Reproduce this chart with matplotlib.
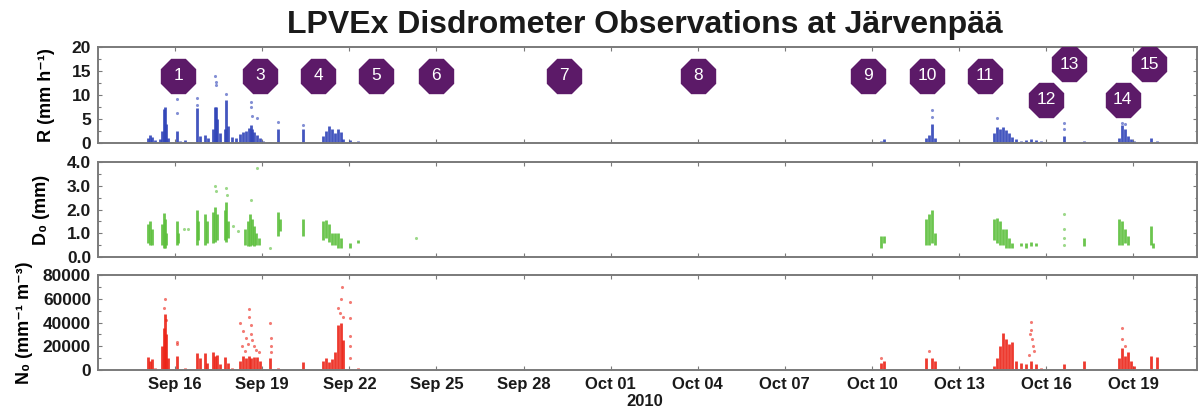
import matplotlib
matplotlib.use("Agg")
import matplotlib.pyplot as plt
from matplotlib.ticker import MultipleLocator

plt.rcParams['font.family'] = ['Liberation Sans', 'DejaVu Sans']

# ---------------- data (time in days counted from Aug 31, 2010: Sep 16 = 16, Oct 1 = 31) ----------------
tick_days = [16, 19, 22, 25, 28, 31, 34, 37, 40, 43, 46, 49]
tick_labels = ["Sep 16", "Sep 19", "Sep 22", "Sep 25", "Sep 28", "Oct 01",
               "Oct 04", "Oct 07", "Oct 10", "Oct 13", "Oct 16", "Oct 19"]

# Rain rate R (mm/h): dense columns (time, top) and sparse points
R_t = [15.07, 15.14, 15.21, 15.31, 15.48, 15.55, 15.62, 15.66, 15.69, 15.76,
       16.07, 16.17, 16.34, 16.52, 16.76, 16.86, 17.03, 17.14, 17.31, 17.38,
       17.42, 17.45, 17.55, 17.72, 17.76, 17.83, 17.97, 18.10, 18.24, 18.34,
       18.45, 18.55, 18.62, 18.66, 18.72, 18.83, 18.93, 19.03, 19.28, 19.55,
       20.41, 21.10, 21.21, 21.31, 21.41, 21.52, 21.62, 21.72, 21.79, 22.03,
       22.31, 40.03, 40.31, 40.41, 41.86, 41.97, 42.07, 42.17, 44.21, 44.31,
       44.41, 44.52, 44.62, 44.72, 44.83, 44.97, 45.14, 45.31, 45.48, 45.66,
       45.83, 45.93, 46.62, 47.31, 48.52, 48.62, 48.72, 48.83, 48.93, 49.03,
       49.62, 49.83]
R_top = [1.0, 1.7, 1.2, 0.6, 0.8, 2.5, 7.0, 7.6, 4.0, 1.0,
         2.4, 0.5, 0.6, 0.3, 7.3, 1.5, 1.6, 1.0, 3.0, 7.6,
         7.5, 5.0, 2.0, 3.0, 9.0, 3.5, 1.2, 1.0, 1.8, 2.2,
         2.5, 3.2, 3.7, 3.0, 2.2, 1.6, 1.0, 0.5, 0.3, 3.0,
         3.0, 1.5, 2.5, 3.5, 3.0, 2.0, 3.0, 2.2, 0.8, 0.6,
         0.4, 0.3, 0.5, 0.8, 1.0, 1.7, 4.0, 1.0, 2.0, 3.4,
         3.0, 3.4, 2.8, 2.0, 1.2, 0.8, 0.5, 0.6, 0.8, 0.6,
         0.4, 0.3, 1.5, 0.4, 1.0, 3.8, 3.0, 1.5, 0.8, 0.5,
         1.0, 0.4]
R_pt_t = [16.07, 16.07, 16.76, 16.76, 17.38, 17.42, 17.40, 17.76, 18.62, 18.62,
          18.66, 18.83, 19.55, 20.41, 42.07, 42.07, 44.31, 46.62, 46.62, 48.62, 48.72]
R_pt_v = [9.2, 6.3, 9.4, 8.0, 14.0, 12.8, 12.0, 10.3, 8.6, 7.6,
          5.6, 5.2, 4.4, 3.8, 5.5, 6.9, 5.2, 4.2, 3.0, 4.2, 4.0]

# Median drop diameter D0 (mm): columns (time, low, high) and sparse points
D_t = [15.07, 15.14, 15.21, 15.55, 15.62, 15.66, 15.69, 16.07, 16.10, 16.76,
       16.80, 17.03, 17.10, 17.31, 17.38, 17.45, 17.72, 17.76, 17.83, 18.40,
       18.50, 18.58, 18.65, 18.72, 18.80, 18.90, 19.55, 19.60, 20.41, 21.10,
       21.21, 21.31, 21.41, 21.52, 21.62, 21.72, 22.03, 22.31, 40.31, 40.41,
       41.86, 41.97, 42.07, 42.17, 44.21, 44.31, 44.41, 44.52, 44.62, 44.72,
       44.83, 45.14, 45.31, 45.48, 45.66, 47.31, 48.52, 48.62, 48.72, 48.83,
       49.62, 49.70]
D_lo = [0.6, 0.5, 0.5, 0.5, 0.4, 0.4, 0.5, 0.5, 0.6, 0.5,
        0.7, 0.5, 0.6, 0.6, 0.65, 0.7, 0.7, 0.65, 0.8, 0.5,
        0.45, 0.45, 0.5, 0.45, 0.5, 0.5, 0.9, 1.1, 0.9, 0.7,
        0.8, 0.65, 0.5, 0.5, 0.4, 0.4, 0.4, 0.6, 0.4, 0.6,
        0.5, 0.5, 0.6, 0.5, 0.7, 0.6, 0.5, 0.5, 0.4, 0.4,
        0.4, 0.45, 0.4, 0.45, 0.45, 0.45, 0.5, 0.5, 0.6, 0.5,
        0.5, 0.4]
D_hi = [1.4, 1.5, 1.2, 1.4, 1.85, 1.6, 1.0, 1.5, 1.0, 2.0,
        1.5, 1.8, 1.5, 1.9, 2.1, 1.8, 2.0, 2.3, 1.5, 1.2,
        1.5, 1.8, 1.6, 1.3, 1.0, 0.8, 1.9, 1.6, 1.6, 1.5,
        1.55, 1.4, 1.0, 1.0, 1.0, 0.8, 0.6, 0.7, 0.9, 0.9,
        1.6, 1.8, 2.0, 1.0, 1.6, 1.65, 1.5, 1.2, 1.2, 0.8,
        0.6, 0.6, 0.6, 0.65, 0.6, 0.8, 1.6, 1.5, 1.2, 0.9,
        1.3, 0.6]
D_pt_t = [17.38, 17.40, 17.76, 17.78, 18.62, 18.83, 16.30, 16.45, 18.00, 18.15,
          46.62, 46.62, 46.62, 46.62, 24.28, 19.28]
D_pt_v = [3.0, 2.8, 2.9, 2.6, 2.4, 3.75, 1.2, 1.2, 1.3, 1.1,
          1.8, 1.2, 0.8, 0.5, 0.8, 0.4]

# Intercept parameter N0 (mm^-1 m^-3): columns (time, top) and sparse points
N_t = [15.07, 15.14, 15.21, 15.31, 15.55, 15.62, 15.66, 15.69, 15.76, 16.07,
       16.34, 16.52, 16.76, 16.86, 17.03, 17.10, 17.31, 17.38, 17.45, 17.55,
       17.72, 17.83, 17.97, 18.24, 18.34, 18.45, 18.55, 18.62, 18.72, 18.83,
       18.93, 19.28, 19.55, 20.41, 21.10, 21.21, 21.31, 21.41, 21.52, 21.62,
       21.72, 21.79, 22.31, 40.31, 40.41, 41.86, 42.07, 42.17, 44.21, 44.31,
       44.41, 44.52, 44.62, 44.72, 44.83, 44.97, 45.14, 45.31, 45.48, 45.66,
       45.83, 46.62, 47.31, 48.52, 48.62, 48.72, 48.83, 48.93, 49.03, 49.62,
       49.83]
N_top = [11200, 8000, 9000, 2000, 20000, 35000, 47000, 30000, 10000, 12000,
         1500, 1000, 14300, 10000, 14000, 6000, 15000, 12000, 13000, 5000,
         11000, 6000, 1500, 8000, 12000, 10000, 12000, 10000, 11000, 11000,
         8000, 10000, 2000, 7000, 8000, 10000, 7000, 9000, 15000, 38000,
         40000, 25000, 2000, 6000, 8000, 10000, 10000, 8000, 3000, 10000,
         20000, 31000, 26000, 22000, 24000, 8000, 6000, 5000, 8000, 5000,
         1500, 5000, 8000, 10000, 18500, 12000, 15000, 8000, 3000, 12000,
         11000]
N_pt_t = [15.62, 15.66, 15.69, 16.07, 16.07, 18.24, 18.34, 18.45, 18.55, 18.55,
          18.60, 18.62, 18.50, 18.70, 18.80, 18.90, 18.30, 18.40, 18.66, 19.28,
          19.30, 19.30, 19.30, 21.62, 21.72, 21.75, 21.69, 21.79, 22.03, 22.03,
          22.03, 22.03, 22.03, 40.31, 41.97, 45.48, 45.48, 45.45, 45.52, 45.55,
          45.60, 45.40, 48.62, 48.62, 48.72]
N_pt_v = [52000, 60000, 42000, 22000, 24000, 40000, 33000, 27000, 51000, 45000,
          38000, 30000, 22000, 20000, 17000, 15000, 20000, 16000, 25000, 40000,
          27000, 20000, 15000, 52000, 60000, 70000, 48000, 45000, 57000, 44000,
          29000, 20000, 10000, 10000, 16000, 40700, 34000, 30000, 26000, 20000,
          16000, 13000, 35000, 26000, 20000]

# Numbered event markers
ev_labels = ["1", "3", "4", "5", "6", "7", "8", "9", "10", "11", "12", "13", "14", "15"]
ev_t = [16.10, 18.93, 20.93, 22.93, 24.97, 29.38, 34.0, 39.86, 41.90, 43.90,
        46.0, 46.79, 48.64, 49.55]
ev_y = [14.0, 14.0, 14.0, 14.0, 14.0, 14.0, 14.0, 14.0, 14.0, 14.0,
        9.0, 16.4, 9.0, 16.4]

# ---------------- styling ----------------
BLUE = '#3044b8'
GREEN = '#5cbf3c'
RED = '#ec2418'
PURPLE = '#5c1a68'
FRAME = '#7a7a7a'
XMIN, XMAX = 13.34, 51.2
NARROW = ['Liberation Sans Narrow', 'Liberation Sans', 'DejaVu Sans']

fig = plt.figure(figsize=(11.99, 4.11), dpi=100)
W, H = 1199.0, 411.0
left = 98 / W
width = (1197 - 98) / W
ax1 = fig.add_axes([left, 1 - 143 / H, width, 96 / H])
ax2 = fig.add_axes([left, 1 - 257 / H, width, 95 / H])
ax3 = fig.add_axes([left, 1 - 370 / H, width, 95 / H])

for ax in (ax1, ax2, ax3):
    ax.set_xlim(XMIN, XMAX)
    ax.set_xticks(tick_days)
    for s in ax.spines.values():
        s.set_color(FRAME)
        s.set_linewidth(1.4)
    ax.tick_params(axis='both', which='both', direction='in', colors=FRAME,
                   top=True, right=True, length=3, width=0.8, labelcolor='#1a1a1a')
    ax.tick_params(axis='both', which='minor', length=1.8)

# Panel 1: R
ax1.vlines(R_t, 0, R_top, color=BLUE, lw=2.0, alpha=0.9)
ax1.scatter(R_pt_t, R_pt_v, s=5, color=BLUE, alpha=0.6, linewidths=0)
ax1.set_ylim(0, 20)
ax1.set_yticks([0, 5, 10, 15, 20])
ax1.set_yticklabels(['0', '5', '10', '15', '20'])
ax1.yaxis.set_minor_locator(MultipleLocator(2.5))
ax1.set_xticklabels([])
ax1.set_ylabel('R (mm h\u207b\u00b9)', fontsize=13, fontweight='bold', labelpad=12,
               family=NARROW)
ax1.plot(ev_t, ev_y, linestyle='none', marker='8', ms=27, color=PURPLE,
         markeredgecolor=PURPLE, zorder=5)
for lab, t, y in zip(ev_labels, ev_t, ev_y):
    ax1.text(t, y, lab, color='white', fontsize=12.5, ha='center', va='center',
             family=NARROW, zorder=6)

# Panel 2: D0
ax2.vlines(D_t, D_lo, D_hi, color=GREEN, lw=2.0, alpha=0.9)
ax2.scatter(D_pt_t, D_pt_v, s=5, color=GREEN, alpha=0.6, linewidths=0)
ax2.set_ylim(0, 4)
ax2.set_yticks([0, 1, 2, 3, 4])
ax2.set_yticklabels(['0.0', '1.0', '2.0', '3.0', '4.0'])
ax2.yaxis.set_minor_locator(MultipleLocator(0.5))
ax2.set_xticklabels([])
ax2.set_ylabel('D\u2080 (mm)', fontsize=13, fontweight='bold', labelpad=12,
               family=NARROW)

# Panel 3: N0
ax3.vlines(N_t, 0, N_top, color=RED, lw=2.0, alpha=0.9)
ax3.scatter(N_pt_t, N_pt_v, s=5, color=RED, alpha=0.6, linewidths=0)
ax3.set_ylim(0, 80000)
ax3.set_yticks([0, 20000, 40000, 60000, 80000])
ax3.set_yticklabels(['0', '20000', '40000', '60000', '80000'])
ax3.yaxis.set_minor_locator(MultipleLocator(10000))
ax3.set_xticklabels(tick_labels)
ax3.set_ylabel('N\u2080 (mm\u207b\u00b9 m\u207b\u00b3)', fontsize=13, fontweight='bold',
               labelpad=7, family=NARROW)

for ax in (ax1, ax2, ax3):
    for lab in ax.get_yticklabels():
        lab.set_fontweight('bold')
        lab.set_fontsize(12.5)
    for lab in ax.get_xticklabels():
        lab.set_fontweight('bold')
        lab.set_fontsize(12)
    ax.tick_params(axis='y', pad=5)
ax3.tick_params(axis='x', pad=5)

fig.text(0.538, 1 - 25 / H, 'LPVEx Disdrometer Observations at Järvenpää',
         ha='center', va='center', fontsize=23, fontweight='bold', color='#1a1a1a')
fig.text(0.538, 1 - 401 / H, '2010', ha='center', va='center', fontsize=12,
         fontweight='bold', color='#1a1a1a')

fig.savefig('out.png', dpi=100, facecolor='white')
